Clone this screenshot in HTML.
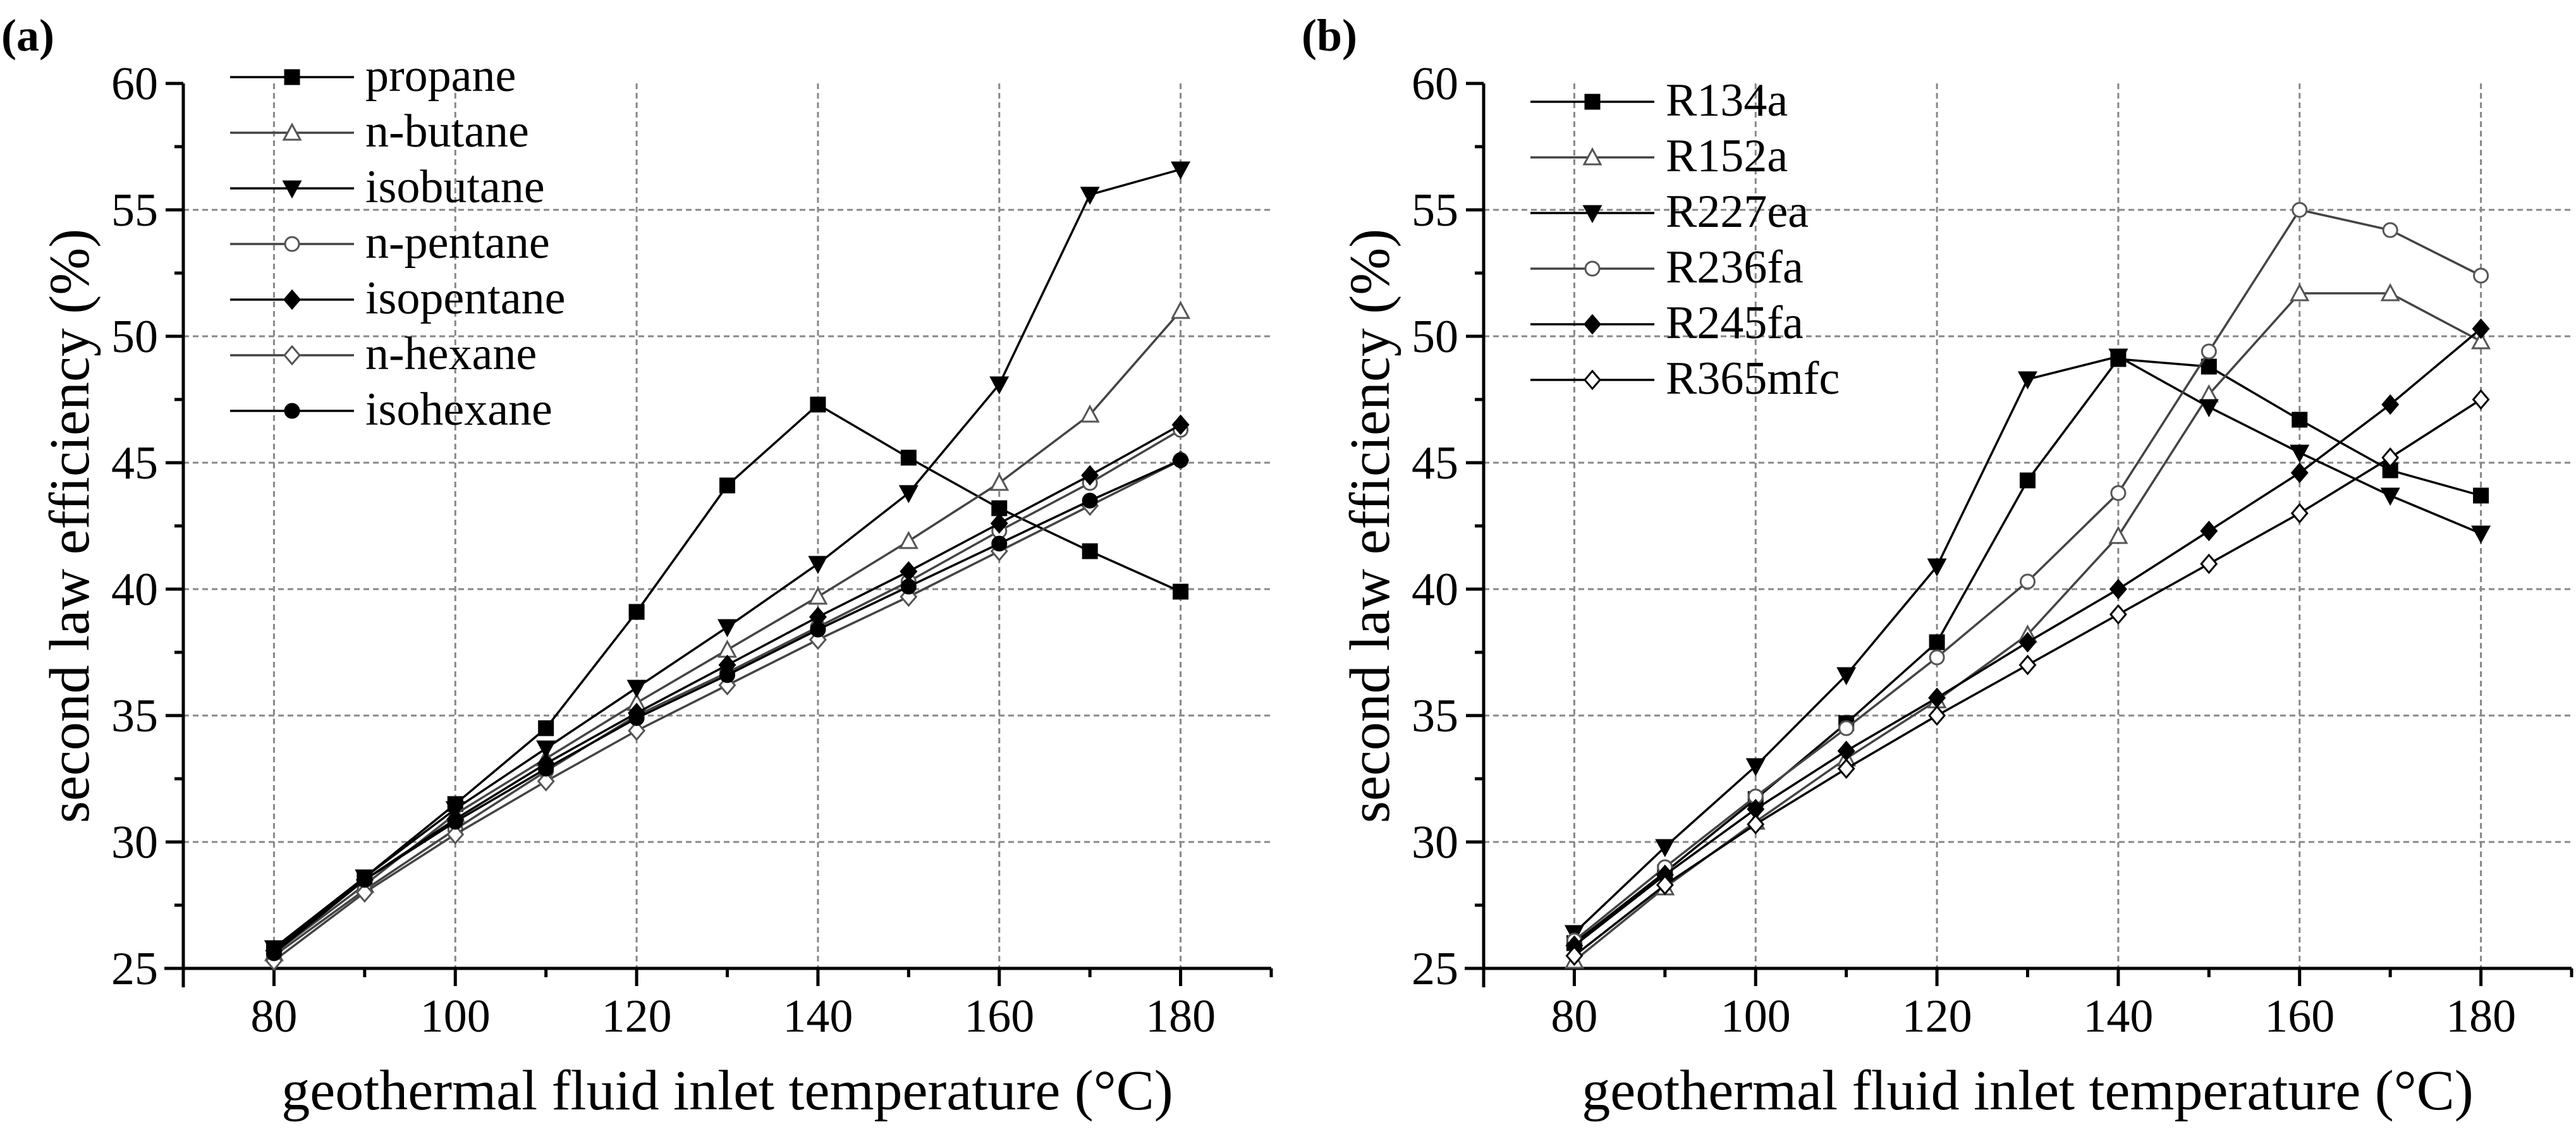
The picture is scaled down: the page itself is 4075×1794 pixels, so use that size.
<!DOCTYPE html>
<html><head><meta charset="utf-8">
<style>
html,body{margin:0;padding:0;background:#fff;}
svg{display:block;}
svg text{font-family:"Liberation Serif","Times New Roman",serif;}
</style></head>
<body>
<svg id="chart" width="4075" height="1794" viewBox="0 0 4075 1794" xmlns="http://www.w3.org/2000/svg" font-family="Liberation Serif, Times New Roman, serif"></svg>
<script>
const temps = [80, 90, 100, 110, 120, 130, 140, 150, 160, 170, 180];
const xTicks = [80, 100, 120, 140, 160, 180];
const yTicks = [25, 30, 35, 40, 45, 50, 55, 60];

const namesA = ["propane", "n-butane", "isobutane", "n-pentane", "isopentane", "n-hexane", "isohexane"];
const propane   = [25.8, 28.6, 31.5, 34.5, 39.1, 44.1, 47.3, 45.2, 43.2, 41.5, 39.9];
const nButane   = [25.6, 28.3, 31.1, 33.3, 35.5, 37.6, 39.7, 41.9, 44.2, 46.9, 51.0];
const isobutane = [25.8, 28.6, 31.3, 33.7, 36.1, 38.5, 41.0, 43.8, 48.1, 55.6, 56.6];
const nPentane  = [25.5, 28.1, 30.5, 32.8, 35.0, 36.7, 38.5, 40.3, 42.3, 44.2, 46.3];
const isopentane= [25.7, 28.5, 30.9, 33.1, 35.1, 37.0, 38.9, 40.7, 42.6, 44.5, 46.5];
const nHexane   = [25.3, 28.0, 30.3, 32.4, 34.4, 36.2, 38.0, 39.7, 41.5, 43.3, 45.1];
const isohexane = [25.6, 28.5, 30.8, 32.9, 34.9, 36.6, 38.4, 40.1, 41.8, 43.5, 45.1];

const namesB = ["R134a", "R152a", "R227ea", "R236fa", "R245fa", "R365mfc"];
const r134a  = [26.0, 28.8, 31.7, 34.7, 37.9, 44.3, 49.1, 48.8, 46.7, 44.7, 43.7];
const r152a  = [25.3, 28.2, 30.8, 33.3, 35.6, 38.2, 42.1, 47.7, 51.7, 51.7, 49.8];
const r227ea = [26.4, 29.8, 33.0, 36.6, 40.9, 48.3, 49.2, 47.2, 45.4, 43.7, 42.2];
const r236fa = [26.1, 29.0, 31.8, 34.5, 37.3, 40.3, 43.8, 49.4, 55.0, 54.2, 52.4];
const r245fa = [25.9, 28.7, 31.3, 33.6, 35.7, 37.9, 40.0, 42.3, 44.6, 47.3, 50.3];
const r365mfc= [25.5, 28.3, 30.7, 32.9, 35.0, 37.0, 39.0, 41.0, 43.0, 45.2, 47.5];

const NS = "http://www.w3.org/2000/svg";
const svg = document.getElementById("chart");
const FONT = '"Liberation Serif", "Times New Roman", serif';
function mk(tag, attrs, parent) {
  const e = document.createElementNS(NS, tag);
  for (const k in attrs) e.setAttribute(k, attrs[k]);
  if (tag === "text") e.style.fontFamily = FONT;
  (parent || svg).appendChild(e);
  return e;
}

const styleA = [
  {m:"square", fill:"#000", stroke:"#000"},
  {m:"tri", fill:"#fff", stroke:"#555"},
  {m:"tridown", fill:"#000", stroke:"#000"},
  {m:"circle", fill:"#fff", stroke:"#555"},
  {m:"diamond", fill:"#000", stroke:"#000"},
  {m:"diamond", fill:"#fff", stroke:"#555"},
  {m:"circle", fill:"#000", stroke:"#000"}
];
const styleB = [
  {m:"square", fill:"#000", stroke:"#000"},
  {m:"tri", fill:"#fff", stroke:"#555"},
  {m:"tridown", fill:"#000", stroke:"#000"},
  {m:"circle", fill:"#fff", stroke:"#555"},
  {m:"diamond", fill:"#000", stroke:"#000"},
  {m:"diamond", fill:"#fff", stroke:"#000"}
];

function marker(g, type, cx, cy, st) {
  const r = 11;
  let e;
  if (type === "square") e = mk("rect", {x:cx-r, y:cy-r, width:2*r, height:2*r}, g);
  else if (type === "circle") e = mk("circle", {cx:cx, cy:cy, r:r}, g);
  else if (type === "tri") e = mk("polygon", {points:`${cx},${cy-r-2} ${cx-r-2},${cy+r} ${cx+r+2},${cy+r}`}, g);
  else if (type === "tridown") e = mk("polygon", {points:`${cx},${cy+r+2} ${cx-r-2},${cy-r} ${cx+r+2},${cy-r}`}, g);
  else e = mk("polygon", {points:`${cx},${cy-r-3} ${cx+r+1},${cy} ${cx},${cy+r+3} ${cx-r-1},${cy}`}, g);
  e.setAttribute("fill", st.fill);
  e.setAttribute("stroke", st.stroke);
  e.setAttribute("stroke-width", "3");
  return e;
}

function panel(ox, letter, names, series, styles, legY) {
  const L = ox + 290, R = ox + 2011, B = 1532, T = 132;
  const X = v => L + (v - 70) * (R - L) / 120;
  const Y = v => B - (v - 25) * 40;
  const g = mk("g", {});
  
  

  const lab = mk("text", {x: ox + 2, y: 80, "font-size": 72, "font-weight": "bold"}, g);
  lab.textContent = "(" + letter + ")";
  
  

  xTicks.forEach(t => {
    const l = mk("line", {x1:X(t), x2:X(t), y1:T, y2:B, stroke:"#888", "stroke-width":3, "stroke-dasharray":"9,6"}, g);
    
    
  });
  yTicks.forEach(t => {
    if (t === 25 || t === 60) return;
    const l = mk("line", {x1:L, x2:R, y1:Y(t), y2:Y(t), stroke:"#888", "stroke-width":3, "stroke-dasharray":"9,6"}, g);
    
    
  });

  const ax = mk("line", {x1:L-30, x2:R, y1:B, y2:B, stroke:"#000", "stroke-width":5}, g);
  
  
  const ay = mk("line", {x1:L, x2:L, y1:T, y2:B+30, stroke:"#000", "stroke-width":5}, g);
  
  

  for (let v = 70; v <= 190; v += 10) {
    const major = xTicks.indexOf(v) >= 0;
    mk("line", {x1:X(v), x2:X(v), y1:B, y2:B + (major ? 28 : 14), stroke:"#000", "stroke-width":5}, g);
  }
  xTicks.forEach(t => {
    const tx = mk("text", {x:X(t), y:1632, "font-size":74, "text-anchor":"middle"}, g);
    tx.textContent = t;
    
    
  });
  for (let v = 25; v <= 60; v += 2.5) {
    const major = v % 5 === 0;
    mk("line", {x1:L - (major ? 28 : 14), x2:L, y1:Y(v), y2:Y(v), stroke:"#000", "stroke-width":5}, g);
  }
  yTicks.forEach(t => {
    const tx = mk("text", {x:L - 40, y:Y(t) + 25, "font-size":74, "text-anchor":"end"}, g);
    tx.textContent = t;
    
    
  });

  const xt = mk("text", {x:(L + R) / 2, y:1755, "font-size":90, "text-anchor":"middle"}, g);
  xt.textContent = "geothermal fluid inlet temperature (°C)";
  
  
  const yt = mk("text", {x:0, y:0, "font-size":90, "text-anchor":"middle", transform:`translate(${ox + 140},${(T + B) / 2}) rotate(-90)`}, g);
  yt.textContent = "second law efficiency (%)";
  
  

  series.forEach((vals, i) => {
    const st = styles[i];
    const sg = mk("g", {}, g);
    
    
    const pts = vals.map((v, j) => X(temps[j]) + "," + Y(v)).join(" ");
    mk("polyline", {points:pts, fill:"none", stroke:st.stroke === "#555" ? "#444" : "#000", "stroke-width":3.5}, sg);
    vals.forEach((v, j) => {
      const m = marker(sg, st.m, X(temps[j]), Y(v), st);
      
      
    });
  });

  const lg = mk("g", {}, g);
  
  
  names.forEach((n, i) => {
    const y = legY + i * 88;
    const st = styles[i];
    const eg = mk("g", {}, lg);
    
    
    mk("line", {x1:ox + 364, x2:ox + 560, y1:y, y2:y, stroke:st.stroke === "#555" ? "#444" : "#000", "stroke-width":3.5}, eg);
    marker(eg, st.m, ox + 462, y, st);
    const t = mk("text", {x:ox + 578, y:y + 22, "font-size":74}, eg);
    t.textContent = n;
  });
}

panel(0, "a", namesA, [propane, nButane, isobutane, nPentane, isopentane, nHexane, isohexane], styleA, 122);
panel(2057, "b", namesB, [r134a, r152a, r227ea, r236fa, r245fa, r365mfc], styleB, 161);
</script>
</body></html>
